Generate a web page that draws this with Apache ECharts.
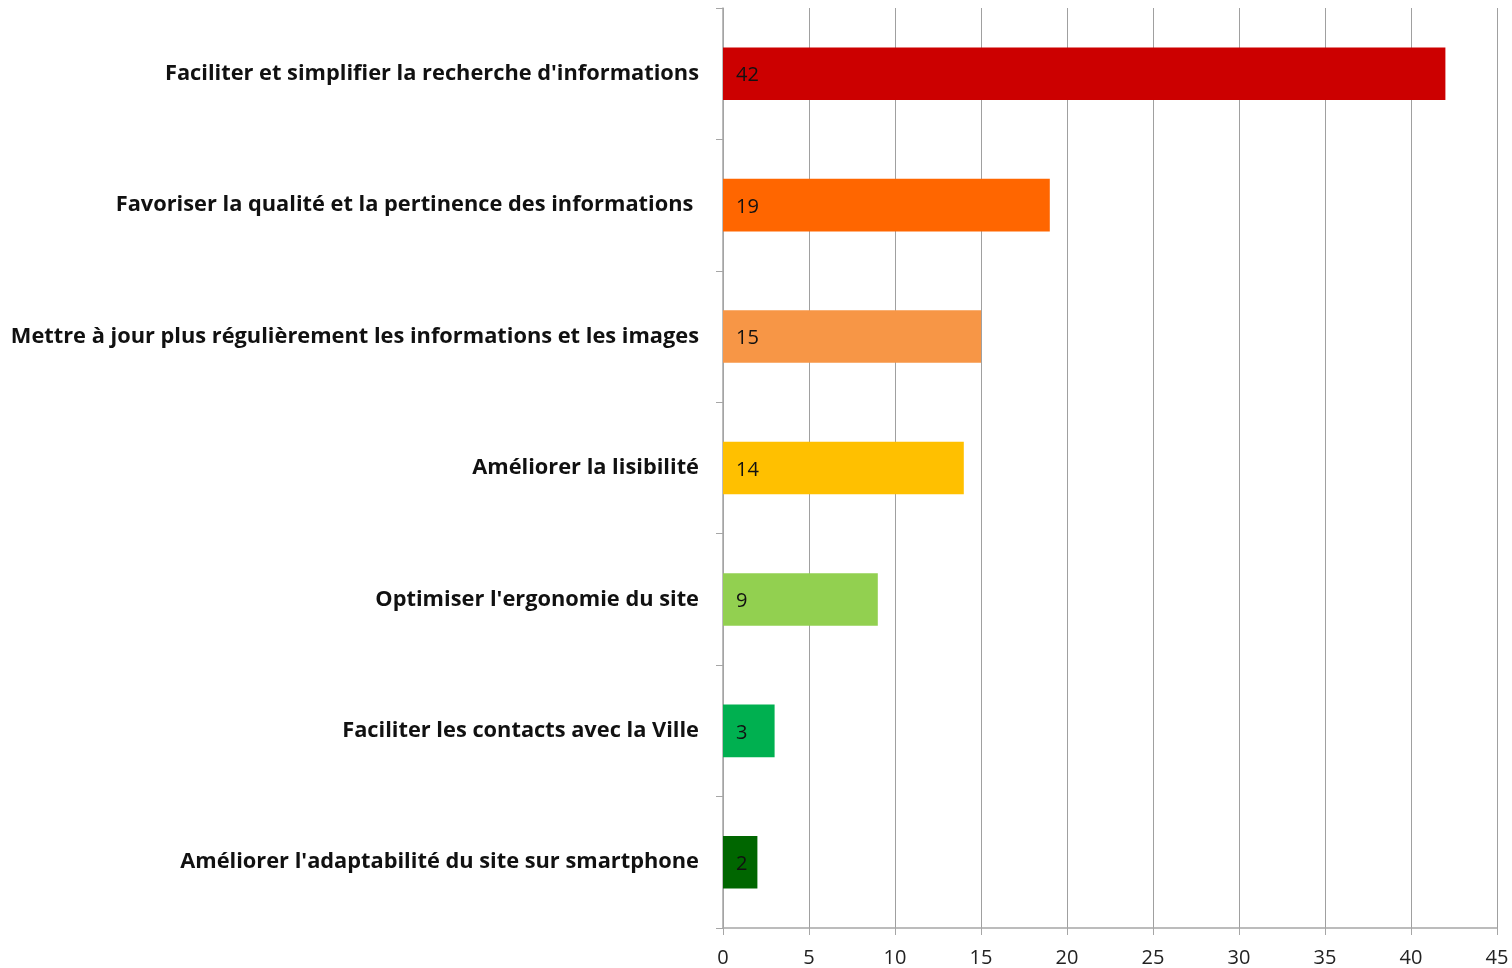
<!DOCTYPE html>
<html><head><meta charset="utf-8">
<script src="https://cdn.jsdelivr.net/npm/echarts@6/dist/echarts.min.js"></script>
<style>html,body{margin:0;padding:0;background:#fff}#c{width:1512px;height:968px}</style>
</head><body><div id="c"></div>
<script>
const categories = [
  "Faciliter et simplifier la recherche d'informations",
  "Favoriser la qualité et la pertinence des informations ",
  "Mettre à jour plus régulièrement les informations et les images",
  "Améliorer la lisibilité",
  "Optimiser l'ergonomie du site",
  "Faciliter les contacts avec la Ville",
  "Améliorer l'adaptabilité du site sur smartphone"
];
const values = [42, 19, 15, 14, 9, 3, 2];
const colors = ["#CC0000", "#FF6600", "#F79646", "#FFC000", "#92D050", "#00B050", "#006600"];
const xTicks = [0, 5, 10, 15, 20, 25, 30, 35, 40, 45];

const chart = echarts.init(document.getElementById('c'));
chart.setOption({
  animation: false,
  grid: { left: 723, right: 15, top: 8, bottom: 40, containLabel: false },
  xAxis: {
    type: 'value', min: xTicks[0], max: xTicks[xTicks.length - 1], interval: 5,
    axisLine: { show: true, lineStyle: { color: '#a6a6a6', width: 1.5 } },
    axisTick: { show: true, length: 7, lineStyle: { color: '#a6a6a6' } },
    splitLine: { show: true, lineStyle: { color: '#a0a0a0', width: 1 } },
    axisLabel: { fontFamily: 'Open Sans', fontSize: 20, color: '#222', margin: 20 }
  },
  yAxis: {
    type: 'category', inverse: true, data: categories,
    axisLine: { show: true, lineStyle: { color: '#a6a6a6', width: 1.5 } },
    axisTick: { show: true, length: 7, lineStyle: { color: '#a6a6a6' } },
    axisLabel: { fontFamily: 'Open Sans', fontWeight: 'bold', fontSize: 21.8, color: '#111', margin: 24, padding: [9, 0, 0, 0] }
  },
  series: [{
    type: 'bar',
    barCategoryGap: '60%',
    data: values.map((v, i) => ({ value: v, itemStyle: { color: colors[i] } })),
    label: {
      show: true, position: 'insideLeft', distance: 13, offset: [0, 2],
      fontFamily: 'Open Sans', fontSize: 20, color: '#111',
      formatter: p => p.value
    }
  }]
});
</script></body></html>
